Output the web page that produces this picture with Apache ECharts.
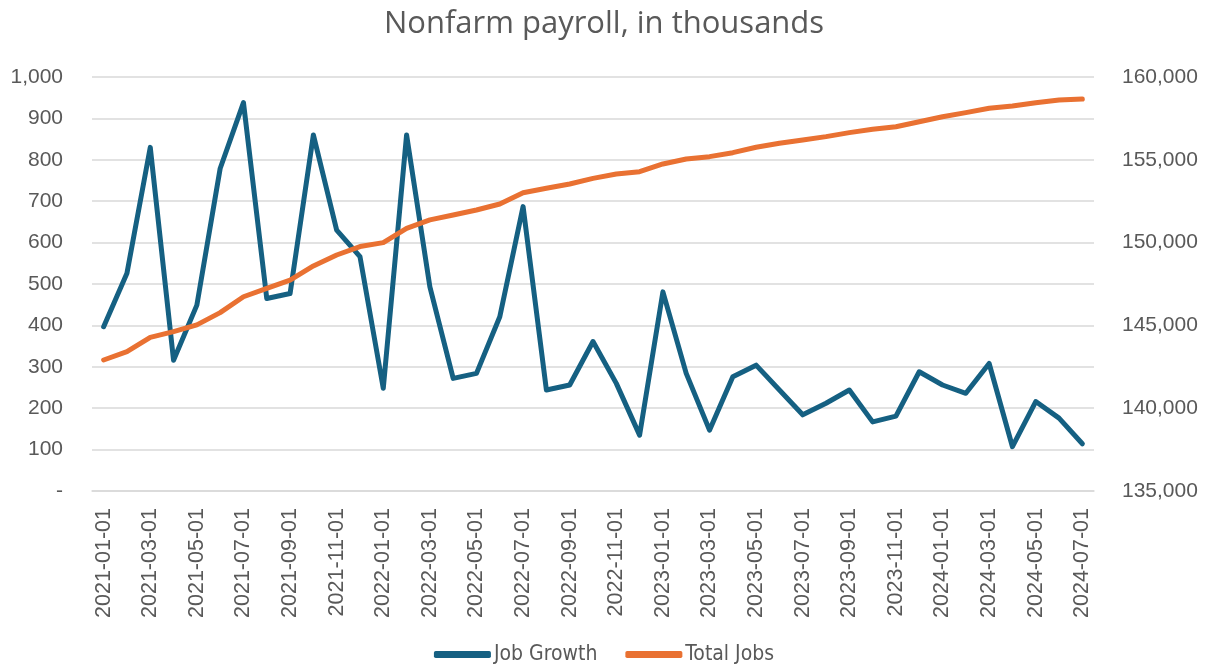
<!DOCTYPE html>
<html><head><meta charset="utf-8">
<script src="https://cdn.jsdelivr.net/npm/echarts@6/dist/echarts.min.js"></script>
<style>html,body{margin:0;padding:0;background:#fff}#c{width:1208px;height:670px}</style>
</head><body><div id="c"></div>
<script>
const months = [
 '2021-01-01','2021-02-01','2021-03-01','2021-04-01','2021-05-01','2021-06-01','2021-07-01','2021-08-01','2021-09-01','2021-10-01','2021-11-01','2021-12-01',
 '2022-01-01','2022-02-01','2022-03-01','2022-04-01','2022-05-01','2022-06-01','2022-07-01','2022-08-01','2022-09-01','2022-10-01','2022-11-01','2022-12-01',
 '2023-01-01','2023-02-01','2023-03-01','2023-04-01','2023-05-01','2023-06-01','2023-07-01','2023-08-01','2023-09-01','2023-10-01','2023-11-01','2023-12-01',
 '2024-01-01','2024-02-01','2024-03-01','2024-04-01','2024-05-01','2024-06-01','2024-07-01'];
const jobGrowth = [397,526,830,316,449,779,938,465,477,860,630,566,
 248,860,493,272,284,421,687,244,256,361,260,135,
 481,284,147,276,304,244,184,212,244,167,181,288,
 256,236,308,107,216,176,114];
const totalJobs = [142910,143410,144280,144620,145030,145770,146730,147240,147740,148590,149250,149760,
 150000,150860,151370,151670,151970,152330,153010,153280,153540,153880,154140,154280,
 154750,155050,155190,155430,155760,156000,156200,156400,156640,156840,157000,157300,
 157600,157850,158110,158250,158450,158610,158670];
const seriesNames = ['Job Growth','Total Jobs'];
const colors = ['#156082','#E97132'];
const txt = '#595959';
const fmt = v => v === 0 ? '-' : v.toLocaleString('en-US');
const chart = echarts.init(document.getElementById('c'));
chart.setOption({
  animation:false,
  title:{text:'Nonfarm payroll, in thousands',left:'center',top:4,
    textStyle:{fontFamily:'Open Sans',fontWeight:'normal',fontSize:31,color:txt}},
  grid:{left:92,right:114,top:77,bottom:179},
  legend:{bottom:0,left:'center',itemWidth:57,itemHeight:7,itemGap:28,icon:'roundRect',
    textStyle:{fontFamily:'"DejaVu Sans Condensed", sans-serif',fontSize:21,color:txt,padding:[0,0,0,-2]},
    data:seriesNames},
  xAxis:{type:'category',data:months,boundaryGap:true,
    axisLine:{lineStyle:{color:'#d9d9d9',width:1.5}},
    axisTick:{interval:1,length:7,lineStyle:{color:'#d9d9d9',width:1.5}},
    axisLabel:{interval:1,rotate:90,margin:17,fontFamily:'Liberation Sans',fontSize:21.5,color:txt}},
  yAxis:[
    {type:'value',min:0,max:1000,interval:100,
     axisLabel:{formatter:fmt,margin:29,fontFamily:'Liberation Sans',fontSize:21,color:txt},
     splitLine:{lineStyle:{color:'#d9d9d9',width:1.5}},axisLine:{show:false},axisTick:{show:false}},
    {type:'value',min:135000,max:160000,interval:5000,
     axisLabel:{formatter:fmt,margin:28,fontFamily:'Liberation Sans',fontSize:21,color:txt},
     splitLine:{show:false},axisLine:{show:false},axisTick:{show:false}}
  ],
  series:[
    {name:seriesNames[0],type:'line',data:jobGrowth,yAxisIndex:0,showSymbol:false,symbol:'none',
     lineStyle:{color:colors[0],width:5,cap:'round',join:'round'},itemStyle:{color:colors[0]}},
    {name:seriesNames[1],type:'line',data:totalJobs,yAxisIndex:1,showSymbol:false,symbol:'none',
     lineStyle:{color:colors[1],width:5,cap:'round',join:'round'},itemStyle:{color:colors[1]}}
  ]
});
</script></body></html>
